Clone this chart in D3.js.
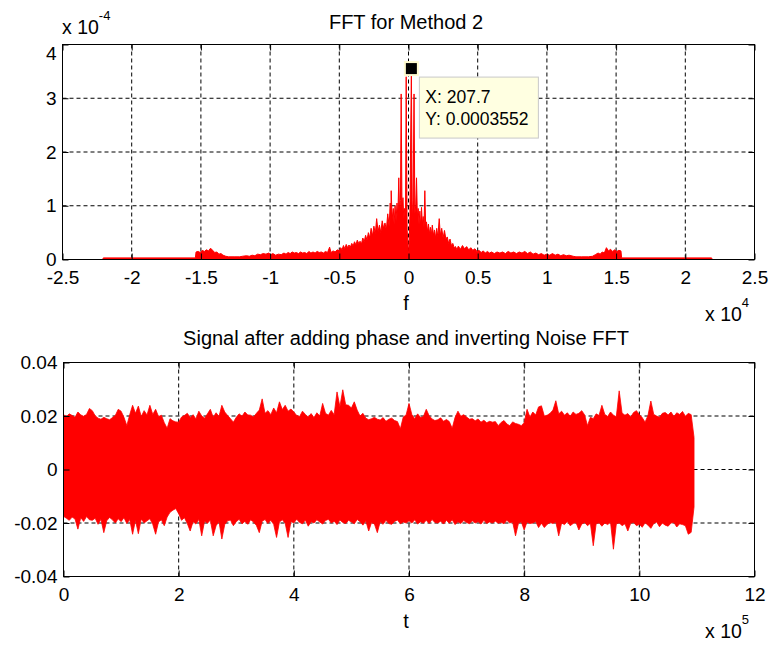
<!DOCTYPE html>
<html><head><meta charset="utf-8">
<script src="https://cdn.jsdelivr.net/npm/d3@7"></script>
<style>
body{margin:0;background:#fff;}
svg{display:block;}
text{font-family:"Liberation Sans",Arial,sans-serif;fill:#000;}
</style>
</head><body>
<svg id="c" width="771" height="646"></svg>
<script>
// ---------- DATA ----------
// Top plot: FFT magnitude spectrum. Frequency in units of 1e4, magnitude in units of 1e-4
const specF = [
 -2.21,-2.205,-1.54,-1.535,-1.52,-1.505,-1.49,-1.475,-1.46,-1.445,
 -1.43,-1.415,-1.40,-1.385,-1.37,-1.355,-1.34,-1.32,-1.30,-1.26,
 -1.22,-1.20,-1.17,-1.15,-1.13,-1.11,-1.09,-1.07,-1.05,-1.03,
 -1.01,-0.995,-0.98,-0.96,-0.94,-0.92,-0.90,-0.885,-0.87,-0.855,
 -0.84,-0.825,-0.81,-0.795,-0.78,-0.765,-0.75,-0.735,-0.72,-0.705,
 -0.69,-0.675,-0.66,-0.645,-0.63,-0.615,-0.60,-0.585,-0.57,-0.56,
 -0.545,-0.53,-0.515,-0.50,-0.49,-0.48,-0.47,-0.46,-0.45,-0.44,
 -0.43,-0.42,-0.41,-0.40,-0.39,-0.38,-0.37,-0.36,-0.35,-0.34,
 -0.33,-0.32,-0.31,-0.30,-0.29,-0.28,-0.27,-0.26,-0.25,-0.24,
 -0.23,-0.22,-0.21,-0.20,-0.19,-0.18,-0.17,-0.16,-0.15,-0.14,
 -0.132,-0.128,-0.125,-0.118,-0.11,-0.104,-0.097,-0.09,-0.083,-0.077,
 -0.070,-0.064,-0.058,-0.053,-0.047,-0.040,-0.034,-0.028,-0.022,-0.0166,
 -0.010,-0.004,0,0.005,0.010,0.0208,0.027,0.033,0.040,0.046,
 0.052,0.058,0.064,0.070,0.076,0.082,0.088,0.094,0.100,0.106,
 0.112,0.118,0.124,0.130,0.137,0.144,0.151,0.158,0.165,0.172,
 0.18,0.188,0.196,0.204,0.212,0.222,0.23,0.24,0.25,0.26,
 0.27,0.28,0.29,0.30,0.31,0.32,0.33,0.34,0.35,0.36,
 0.375,0.39,0.405,0.42,0.435,0.45,0.465,0.48,0.495,0.51,
 0.525,0.54,0.555,0.57,0.585,0.60,0.62,0.64,0.66,0.68,
 0.70,0.72,0.74,0.76,0.78,0.80,0.82,0.84,0.86,0.88,
 0.90,0.92,0.94,0.96,0.98,1.00,1.02,1.04,1.06,1.08,
 1.10,1.12,1.14,1.16,1.19,1.21,1.25,1.30,1.33,1.35,
 1.37,1.385,1.40,1.415,1.43,1.445,1.46,1.475,1.49,1.505,
 1.52,1.535,1.54,2.19,2.195
];
const specM = [
 0,0.03,0.03,0.14,0.15,0.13,0.17,0.15,0.18,0.16,
 0.21,0.17,0.13,0.14,0.10,0.11,0.08,0.06,0.05,0.05,
 0.05,0.06,0.07,0.06,0.08,0.07,0.10,0.09,0.11,0.10,
 0.12,0.09,0.11,0.08,0.10,0.09,0.12,0.10,0.13,0.11,
 0.14,0.12,0.13,0.11,0.14,0.12,0.13,0.11,0.15,0.12,
 0.14,0.12,0.15,0.13,0.14,0.12,0.15,0.13,0.23,0.13,
 0.16,0.14,0.18,0.16,0.22,0.18,0.26,0.20,0.28,0.22,
 0.27,0.23,0.30,0.25,0.33,0.27,0.36,0.30,0.34,0.29,
 0.40,0.33,0.45,0.36,0.50,0.40,0.58,0.44,0.62,0.48,
 0.76,0.52,0.64,0.50,0.72,0.58,0.68,0.55,0.85,0.62,
 1.05,0.70,1.28,0.75,0.95,0.65,1.00,0.72,1.05,0.80,
 1.52,0.85,1.10,3.08,0.90,1.15,0.75,0.95,0.60,3.40,
 0.55,0.30,0.02,0.35,0.80,3.552,0.70,1.10,3.08,0.85,
 1.00,1.52,0.80,0.95,0.65,0.90,0.62,0.97,0.66,0.80,
 0.60,1.28,0.62,0.70,0.52,0.66,0.48,0.60,0.46,0.64,
 0.45,0.55,0.40,0.58,0.42,0.76,0.45,0.58,0.40,0.54,
 0.38,0.42,0.30,0.38,0.26,0.30,0.22,0.24,0.18,0.25,
 0.19,0.26,0.20,0.24,0.18,0.22,0.17,0.20,0.15,0.17,
 0.13,0.16,0.12,0.15,0.12,0.14,0.11,0.14,0.12,0.14,
 0.11,0.15,0.12,0.14,0.11,0.14,0.12,0.15,0.11,0.14,
 0.10,0.12,0.09,0.11,0.08,0.10,0.08,0.11,0.08,0.10,
 0.07,0.09,0.07,0.08,0.06,0.05,0.05,0.05,0.06,0.09,
 0.12,0.10,0.14,0.12,0.22,0.16,0.19,0.15,0.18,0.15,
 0.17,0.16,0.03,0.03,0
];
// Bottom plot: signal envelope, sampled every sigStep (units of 1e5), values in units of 1e-3
const sigStep = 0.05;
const sigUpper = [
 20.5,19.8,20.8,20.2,19.5,21.5,20.4,19.9,20.6,22.8,
 22.0,20.1,19.2,18.8,19.5,19.0,18.6,19.4,20.2,22.5,
 21.8,19.5,16.4,20.5,24.0,21.0,23.7,19.8,22.0,20.4,
 24.0,20.6,22.5,19.8,20.3,17.5,15.4,19.0,18.2,17.8,
 17.7,19.6,20.2,21.0,19.4,20.5,18.9,21.8,20.0,19.2,
 20.8,22.5,19.5,21.2,19.8,24.0,21.5,20.2,19.0,17.7,
 19.5,20.8,19.9,21.5,20.4,20.3,19.6,21.0,22.2,26.4,
 21.0,22.0,20.5,23.0,21.2,25.3,22.4,24.0,21.8,22.6,
 21.5,20.2,19.8,21.8,20.6,19.6,20.9,19.4,21.2,20.0,
 24.7,21.0,20.3,22.1,20.5,29.0,23.5,29.8,24.2,24.0,
 23.0,25.3,22.2,20.0,21.0,19.2,18.6,19.0,19.5,18.8,
 18.5,19.4,18.0,18.8,19.2,18.3,17.9,15.2,19.6,20.4,
 24.7,20.5,19.0,20.8,19.4,19.8,22.5,20.1,18.9,18.3,
 18.6,19.3,18.0,18.7,17.9,15.4,19.5,21.8,19.9,20.5,
 19.6,18.8,19.0,18.2,18.9,17.7,18.4,17.5,18.0,17.7,
 17.9,16.4,17.6,18.3,17.0,16.4,17.8,17.2,16.9,16.4,
 17.5,22.5,19.6,21.5,20.4,23.4,23.8,20.0,20.3,21.0,
 22.2,25.7,20.8,21.8,20.3,21.2,19.9,21.5,20.6,21.0,
 22.0,20.4,16.4,19.5,19.0,20.8,20.2,24.0,20.6,19.8,
 21.5,20.3,19.7,29.4,21.1,20.3,20.9,19.6,21.3,22.0,
 20.5,19.4,17.7,20.2,25.6,20.6,20.0,19.5,21.0,21.3,
 20.4,21.5,19.8,21.2,20.6,21.7,19.9,21.0,20.5,12.0
];
const sigLower = [
 -17.5,-18.2,-19.0,-17.8,-18.5,-22.3,-18.0,-19.4,-17.6,-18.8,
 -19.0,-18.2,-20.5,-18.6,-23.6,-19.2,-17.9,-18.8,-20.0,-18.4,
 -19.5,-18.0,-20.2,-18.7,-24.2,-19.0,-24.0,-18.5,-20.0,-19.2,
 -18.4,-20.5,-24.2,-19.6,-18.8,-21.0,-17.8,-16.0,-15.2,-14.6,
 -16.5,-19.0,-18.0,-20.2,-23.0,-19.5,-20.4,-18.6,-24.8,-19.3,
 -20.1,-18.9,-24.8,-21.0,-19.4,-26.0,-20.6,-19.2,-18.9,-21.0,
 -19.5,-18.6,-20.3,-19.4,-20.5,-18.8,-19.6,-20.9,-23.6,-19.3,
 -18.7,-20.2,-19.0,-20.5,-25.4,-19.6,-18.8,-20.1,-25.4,-19.4,
 -20.0,-18.6,-19.8,-20.3,-18.9,-21.2,-19.5,-20.0,-18.8,-19.6,
 -20.4,-19.1,-18.6,-20.0,-19.3,-20.6,-18.9,-19.8,-20.2,-19.0,
 -19.6,-20.3,-18.7,-19.5,-20.8,-19.2,-23.0,-19.8,-20.4,-23.6,
 -19.5,-20.5,-19.0,-20.2,-20.5,-19.4,-18.9,-20.3,-19.6,-20.0,
 -19.2,-20.0,-18.8,-20.4,-19.5,-20.1,-19.0,-20.2,-18.7,-19.8,
 -20.0,-19.3,-20.4,-19.0,-20.1,-18.8,-20.6,-19.5,-20.2,-19.1,
 -19.8,-20.3,-19.2,-20.0,-19.5,-20.4,-19.0,-20.2,-19.6,-20.0,
 -19.3,-20.1,-19.7,-20.3,-19.0,-20.0,-19.6,-24.8,-20.2,-19.5,
 -22.6,-19.6,-20.2,-20.0,-19.4,-21.7,-20.1,-21.7,-20.5,-19.8,
 -20.2,-19.6,-24.8,-20.0,-20.6,-19.4,-21.0,-20.2,-19.8,-22.6,
 -20.4,-19.8,-21.0,-20.1,-28.5,-20.3,-19.9,-21.2,-20.0,-20.6,
 -19.7,-29.8,-20.4,-19.9,-21.0,-20.3,-23.0,-20.1,-19.8,-21.0,
 -20.5,-21.6,-19.9,-20.8,-22.0,-20.2,-19.6,-21.4,-20.0,-20.8,
 -21.2,-20.0,-19.8,-21.5,-20.3,-20.6,-21.0,-24.2,-23.5,-14.0
];
// Axis ticks
const fTicks = [-2.5,-2,-1.5,-1,-0.5,0,0.5,1,1.5,2,2.5];
const mTicks = [0,1,2,3,4];
const tTicks = [0,2,4,6,8,10,12];
const aTicks = [-0.04,-0.02,0,0.02,0.04];
// Data tip
const tipX = 207.7, tipY = 0.0003552;
const titles = ["FFT for Method 2", "Signal after adding phase and inverting Noise FFT"];

// ---------- DRAW ----------
const svg = d3.select("#c");
const RED = "#ff0000";
const FS = 19;

const xTop = d3.scaleLinear([-2.5, 2.5], [62.5, 754.5]);
const yTop = d3.scaleLinear([0, 4], [259.5, 44.5]);
const xBot = d3.scaleLinear([0, 12], [63.5, 754.5]);
const yBot = d3.scaleLinear([-0.04, 0.04], [576.5, 362.5]);

function grid(g, x, y, xt, yt) {
  const [xa, xb] = x.range(), [ya, yb] = y.range();
  g.append("g").selectAll("line").data(xt.slice(1, -1)).join("line")
    .attr("x1", d => x(d)).attr("x2", d => x(d)).attr("y1", yb).attr("y2", ya)
    .attr("stroke", "#000").attr("stroke-width", 1).attr("stroke-dasharray", "4,3");
  g.append("g").selectAll("line").data(yt.slice(1, -1)).join("line")
    .attr("y1", d => y(d)).attr("y2", d => y(d)).attr("x1", xa).attr("x2", xb)
    .attr("stroke", "#000").attr("stroke-width", 1).attr("stroke-dasharray", "4,3");
}

function axes(g, x, y, xt, yt) {
  const [xa, xb] = x.range(), [ya, yb] = y.range();
  const styleAxis = s => {
    s.select(".domain").remove();
    s.attr("font-size", FS).attr("font-family", '"Liberation Sans",Arial,sans-serif');
    s.selectAll("line").attr("stroke", "#000");
    s.selectAll("text").attr("fill", "#000");
  };
  g.append("g").attr("transform", `translate(0,${ya})`)
    .call(d3.axisBottom(x).tickValues(xt).tickFormat(d => String(d)).tickSizeInner(-6).tickSizeOuter(0).tickPadding(11))
    .call(styleAxis);
  g.append("g").attr("transform", `translate(0,${yb})`)
    .call(d3.axisTop(x).tickValues(xt).tickFormat("").tickSizeInner(-6).tickSizeOuter(0))
    .call(styleAxis);
  g.append("g").attr("transform", `translate(${xa},0)`)
    .call(d3.axisLeft(y).tickValues(yt).tickFormat(d => String(d)).tickSizeInner(-6).tickSizeOuter(0).tickPadding(6))
    .call(styleAxis);
  g.append("g").attr("transform", `translate(${xb},0)`)
    .call(d3.axisRight(y).tickValues(yt).tickFormat("").tickSizeInner(-6).tickSizeOuter(0))
    .call(styleAxis);
  g.append("rect").attr("x", xa).attr("y", yb).attr("width", xb - xa).attr("height", ya - yb)
    .attr("fill", "none").attr("stroke", "#000").attr("stroke-width", 1);
}

// ----- Top plot -----
const gTop = svg.append("g");
grid(gTop, xTop, yTop, fTicks, mTicks);
const spec = specF.map((f, i) => ({f, m: specM[i]}));
gTop.append("path").datum(spec)
  .attr("d", d3.area().x(d => xTop(d.f)).y0(yTop(0)).y1(d => yTop(d.m)))
  .attr("fill", RED);
gTop.append("path").datum(spec)
  .attr("d", d3.line().x(d => xTop(d.f)).y(d => yTop(d.m)))
  .attr("fill", "none").attr("stroke", RED).attr("stroke-width", 1);
axes(gTop, xTop, yTop, fTicks, mTicks);
// shift the top "4" label as in the reference
gTop.selectAll("text").filter(function(){ return this.textContent === "4" && +this.parentNode.getAttribute("transform").match(/,([\d.]+)\)/)[1] < 50; })
  .attr("y", 9);

// ----- Bottom plot -----
const gBot = svg.append("g");
grid(gBot, xBot, yBot, tTicks, aTicks);
const sig = sigUpper.map((u, i) => ({t: i * sigStep, u: u / 1000, l: sigLower[i] / 1000}));
gBot.append("path").datum(sig)
  .attr("d", d3.area().x(d => xBot(d.t)).y0(d => yBot(d.l)).y1(d => yBot(d.u)))
  .attr("fill", RED).attr("stroke", RED).attr("stroke-width", 0.8);
axes(gBot, xBot, yBot, tTicks, aTicks);

// ----- Titles & labels -----
svg.append("text").attr("x", 406).attr("y", 28.5).attr("text-anchor", "middle").attr("font-size", 20).text(titles[0]);
svg.append("text").attr("x", 406).attr("y", 345).attr("text-anchor", "middle").attr("font-size", 20).text(titles[1]);
svg.append("text").attr("x", 406).attr("y", 310).attr("text-anchor", "middle").attr("font-size", 20).text("f");
svg.append("text").attr("x", 406).attr("y", 628).attr("text-anchor", "middle").attr("font-size", 20).text("t");

function expLabel(x, y, exp) {
  const t = svg.append("text").attr("x", x).attr("y", y).attr("font-size", 19.5);
  t.append("tspan").text("x 10");
  t.append("tspan").attr("dy", -14).attr("font-size", 13).text(exp);
}
expLabel(62, 33.5, "-4");
expLabel(705, 321, "4");
expLabel(705, 638, "5");

// ----- Data tip -----
const cx = xTop(tipX / 1e4), cy = yTop(tipY / 1e-4);
svg.append("rect").attr("x", cx - 7.5).attr("y", cy - 7.5).attr("width", 15).attr("height", 15).attr("fill", "#fffbd0");
svg.append("rect").attr("x", cx - 5.5).attr("y", cy - 5.5).attr("width", 11).attr("height", 11).attr("fill", "#000");
const bx = cx + 8, by = cy + 8.5;
svg.append("rect").attr("x", bx).attr("y", by).attr("width", 119).attr("height", 61)
  .attr("fill", "#ffffe1").attr("stroke", "#c8c8c8").attr("stroke-width", 1);
svg.append("text").attr("x", bx + 6).attr("y", by + 26).attr("font-size", 17.5).text("X: " + tipX);
svg.append("text").attr("x", bx + 6).attr("y", by + 48).attr("font-size", 17.5).text("Y: " + tipY);
</script>
</body></html>
